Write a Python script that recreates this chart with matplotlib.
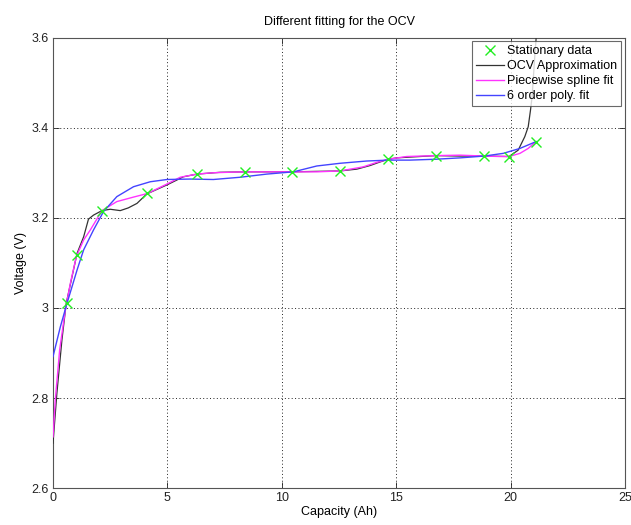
import matplotlib
matplotlib.use("Agg")
import matplotlib.pyplot as plt

plt.rcParams['font.family'] = ['Liberation Sans Narrow', 'Liberation Sans', 'DejaVu Sans']

# Stationary data
stat_x = [0.61, 1.05, 2.14, 4.13, 6.29, 8.37, 10.46, 12.55, 14.66, 16.74, 18.85, 19.93, 21.11]
stat_y = [3.010, 3.118, 3.216, 3.254, 3.297, 3.302, 3.302, 3.304, 3.330, 3.338, 3.337, 3.336, 3.369]

# OCV approximation
ocv_x = [0.0, 0.17, 0.39, 0.58, 0.83, 1.05, 1.34, 1.55, 1.77, 2.14, 2.50, 2.94, 3.29, 3.67, 4.10,
         4.98, 5.70, 6.29, 7.31, 8.37, 9.49, 10.46, 11.45, 12.55, 13.28, 13.86, 14.30, 14.66, 15.02,
         16.74, 17.79, 18.85, 19.93, 20.33, 20.62, 20.77, 20.87, 20.94, 21.06, 21.11, 21.13]
ocv_y = [2.700, 2.811, 2.929, 3.011, 3.069, 3.121, 3.158, 3.197, 3.206, 3.216, 3.219, 3.216, 3.222, 3.232, 3.253,
         3.273, 3.291, 3.297, 3.301, 3.302, 3.302, 3.302, 3.303, 3.304, 3.308, 3.316, 3.324, 3.330, 3.333,
         3.338, 3.337, 3.337, 3.336, 3.350, 3.380, 3.402, 3.439, 3.469, 3.561, 3.594, 3.617]

# Piecewise spline fit
spl_x = [0.0, 0.10, 0.29, 0.54, 0.76, 1.02, 1.34, 1.63, 2.14, 2.79, 3.52, 4.13, 4.98, 5.56, 6.29,
         7.01, 8.32, 9.63, 10.46, 11.53, 12.55, 13.56, 14.15, 14.66, 15.46, 16.74, 17.79, 18.85,
         19.53, 19.93, 20.41, 20.77, 21.11]
spl_y = [2.714, 2.796, 2.907, 2.996, 3.055, 3.114, 3.151, 3.173, 3.216, 3.236, 3.246, 3.254, 3.275, 3.290, 3.297,
         3.300, 3.302, 3.302, 3.302, 3.302, 3.304, 3.313, 3.323, 3.330, 3.336, 3.338, 3.339, 3.337,
         3.336, 3.336, 3.343, 3.354, 3.369]

# 6 order polynomial fit
pol_x = [0.0, 0.32, 0.61, 1.05, 1.19, 1.34, 1.77, 2.21, 2.79, 3.52, 4.25, 4.98, 5.99, 7.01, 8.18,
         9.34, 10.51, 11.53, 12.55, 13.71, 14.66, 15.60, 16.74, 17.79, 18.85, 19.68, 20.41, 21.11]
pol_y = [2.892, 2.958, 3.010, 3.084, 3.106, 3.129, 3.173, 3.214, 3.247, 3.269, 3.280, 3.285, 3.286, 3.285, 3.290,
         3.297, 3.302, 3.315, 3.321, 3.326, 3.328, 3.328, 3.330, 3.333, 3.337, 3.343, 3.354, 3.369]

xticks = [0, 5, 10, 15, 20, 25]
yticks = [2.6, 2.8, 3.0, 3.2, 3.4, 3.6]
ytick_labels = ['2.6', '2.8', '3', '3.2', '3.4', '3.6']

fig = plt.figure(figsize=(6.31, 5.25), dpi=100)
ax = fig.add_axes([53/631, 1 - 488.3/525, (625 - 53)/631, (488.3 - 37.5)/525])

ax.plot(stat_x, stat_y, linestyle='none', marker='x', color='#22ee22', markersize=7,
        markeredgewidth=1.0, label='Stationary data', zorder=5)
ax.plot(ocv_x, ocv_y, color='#333333', linewidth=0.9, label='OCV Approximation', zorder=3,
        solid_joinstyle='round')
ax.plot(spl_x, spl_y, color='#ff33ff', linewidth=1.0, label='Piecewise spline fit', zorder=4,
        solid_joinstyle='round')
ax.plot(pol_x, pol_y, color='#4444ff', linewidth=1.0, label='6 order poly. fit', zorder=4,
        solid_joinstyle='round')

ax.set_xlim(0, 25)
ax.set_ylim(2.6, 3.6)
ax.set_xticks(xticks)
ax.set_xticklabels([str(t) for t in xticks])
ax.set_yticks(yticks)
ax.set_yticklabels(ytick_labels)

ax.grid(True, linestyle=(0, (1, 2.5)), color='#222222', linewidth=0.7)
ax.tick_params(direction='in', top=True, right=True, length=4, width=0.6,
               labelsize=9, colors='#222222', pad=3)
for s in ax.spines.values():
    s.set_color('#555555')
    s.set_linewidth(0.8)

ax.set_title('Different fitting for the OCV', fontsize=9, pad=9)
ax.set_xlabel('Capacity (Ah)', fontsize=9, labelpad=1)
ax.set_ylabel('Voltage (V)', fontsize=9, labelpad=3)

leg = ax.legend(loc='upper right', fontsize=9, frameon=True, fancybox=False,
                borderaxespad=0.3, handlelength=2.2, handletextpad=0.3,
                labelspacing=0.25, borderpad=0.3)
leg.get_frame().set_edgecolor('#444444')
leg.get_frame().set_linewidth(0.8)

fig.savefig('out.png', dpi=100)
